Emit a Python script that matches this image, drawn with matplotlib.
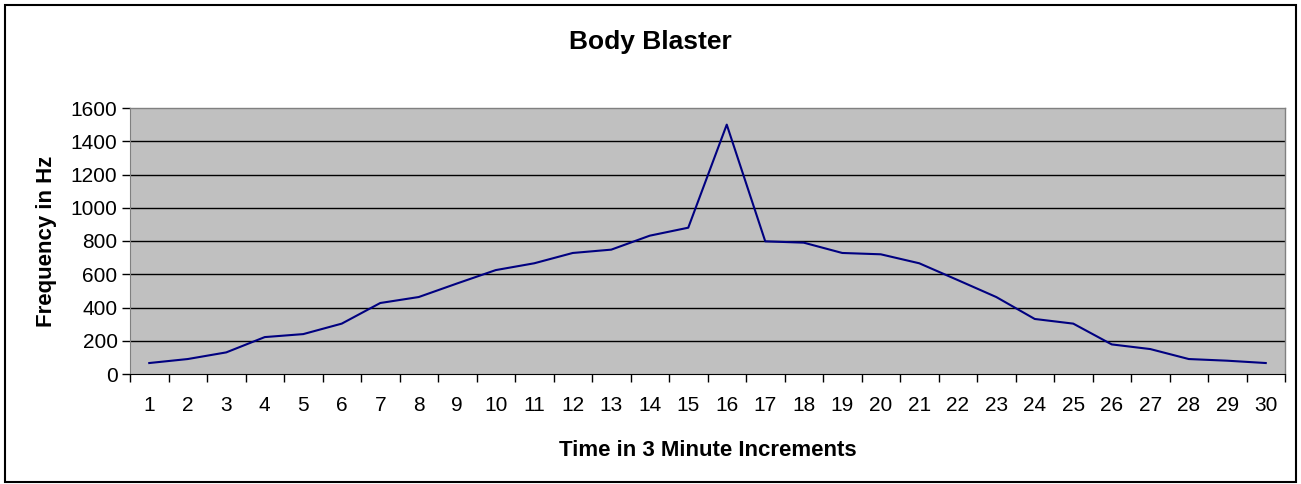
import numpy as np
import matplotlib.pyplot as plt
from matplotlib.patches import Rectangle

plt.rcParams['font.family'] = ['Liberation Sans', 'DejaVu Sans']

times = list(range(1, 31))
freq = [66, 90, 130, 222, 240, 303, 427, 463, 545, 625,
        666, 728, 748, 832, 880, 1500, 798, 790, 728, 720,
        666, 565, 463, 331, 303, 178, 150, 90, 80, 66]
yticks = [0, 200, 400, 600, 800, 1000, 1200, 1400, 1600]

W, H = 1301, 484
fig = plt.figure(figsize=(W / 100, H / 100), dpi=100)
ax = fig.add_axes([130 / W, 1 - 374 / H, (1285 - 130) / W, (374 - 108) / H])

ax.set_facecolor('#c0c0c0')
x = np.arange(len(times))
ax.plot(x, freq, color='#000080', lw=1.5, zorder=3)

ax.set_xlim(-0.5, len(times) - 0.5)
ax.set_ylim(0, 1600)
ax.set_yticks(yticks)
ax.set_yticklabels([str(v) for v in yticks], fontsize=15)
ax.set_xticks(x)
ax.set_xticklabels([str(t) for t in times], fontsize=15)
ax.set_xticks(np.arange(-0.5, len(times)), minor=True)
ax.tick_params(axis='x', which='major', length=0, pad=16)
ax.tick_params(axis='x', which='minor', length=6, width=1, color='black', direction='out')
ax.tick_params(axis='y', length=6, width=1, color='black', direction='out', pad=3)

for v in yticks[1:-1]:
    ax.axhline(v, color='black', lw=1, zorder=1)

for s in ['top', 'right']:
    ax.spines[s].set_color('#808080')
    ax.spines[s].set_linewidth(1)
ax.spines['left'].set_color('#808080')
ax.spines['bottom'].set_color('black')

ax.set_xlabel('Time in 3 Minute Increments', fontsize=16, fontweight='bold', labelpad=18)
ax.set_ylabel('Frequency in Hz', fontsize=16, fontweight='bold', labelpad=10)
fig.text(0.5, 1 - 42 / H, 'Body Blaster', ha='center', va='center',
         fontsize=19, fontweight='bold')

fig.patches.append(Rectangle((5 / W, 2 / H), (W - 10) / W, (H - 7) / H, transform=fig.transFigure,
                             fill=False, edgecolor='black', lw=1.5))

fig.savefig('out.png', dpi=100)
